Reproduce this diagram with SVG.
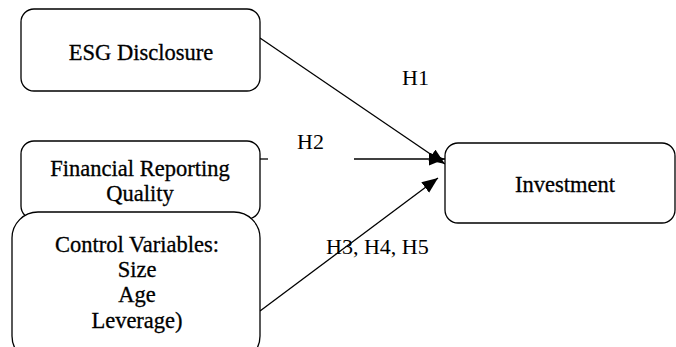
<svg xmlns="http://www.w3.org/2000/svg" width="676" height="347" viewBox="0 0 676 347">
<style>
.box{fill:#fff;stroke:#000;stroke-width:1.3}
.nt{font-family:"Liberation Serif","Times New Roman",serif;font-size:22.5px;fill:#000;stroke:#000;stroke-width:0.3;text-anchor:middle}
.lb{font-family:"Liberation Serif","Times New Roman",serif;font-size:22px;fill:#000}
.ln{fill:none;stroke:#000;stroke-width:1.3}
</style>
<defs>
<marker id="ah" markerUnits="userSpaceOnUse" markerWidth="17" markerHeight="14" refX="16" refY="6.5" orient="auto">
<path d="M0,0 L16,6.5 L0,13 z" fill="#000"/>
</marker>
</defs>
<rect width="676" height="347" fill="#fff"/>
<g id="connectors">
<line class="ln" x1="260" y1="38" x2="445" y2="164" marker-end="url(#ah)"/>
<line class="ln" x1="260" y1="159" x2="268" y2="159"/>
<line class="ln" x1="354" y1="159" x2="445" y2="159" marker-end="url(#ah)"/>
<line class="ln" x1="260" y1="311" x2="438" y2="178" marker-end="url(#ah)"/>
</g>
<g id="esg">
<rect class="box" x="21" y="9" width="239" height="82" rx="13"/>
<text class="nt" x="141" y="60">ESG Disclosure</text>
</g>
<g id="frq">
<rect class="box" x="21" y="141" width="239" height="78" rx="13"/>
<text class="nt" x="140" y="176">Financial Reporting</text>
<text class="nt" x="140" y="201">Quality</text>
</g>
<g id="control">
<rect class="box" x="12" y="212" width="248" height="150" rx="26"/>
<text class="nt" x="137" y="252">Control Variables:</text>
<text class="nt" x="137" y="277">Size</text>
<text class="nt" x="137" y="302">Age</text>
<text class="nt" x="137" y="328">Leverage)</text>
</g>
<g id="investment">
<rect class="box" x="445" y="143" width="230" height="80" rx="13"/>
<text class="nt" x="565" y="192">Investment</text>
</g>
<g id="labels">
<text class="lb" x="402" y="85">H1</text>
<text class="lb" x="297" y="149">H2</text>
<text class="lb" x="326" y="254">H3, H4, H5</text>
</g>
</svg>
